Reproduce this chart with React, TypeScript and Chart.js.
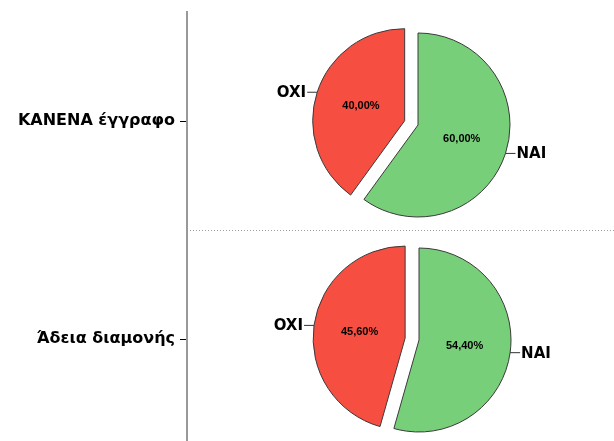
import React, { useEffect, useRef } from 'react';
import { Chart, registerables } from 'chart.js';

Chart.register(...registerables);

// ---- data ----
const panelLabels = ['ΚΑΝΕΝΑ έγγραφο', 'Άδεια διαμονής'];
const sliceLabels = ['NAI', 'OXI'];
const kanenaValues = [60.0, 40.0];
const adeiaValues = [54.4, 45.6];
const sliceColors = ['#78CF7A', '#F64E41'];

const FONT = '"Liberation Sans", Arial, sans-serif';
const BOLD_FONT = '"DejaVu Sans", Verdana, sans-serif';

const piePlugin = {
  id: 'pieDecor',
  beforeDatasetsDraw(chart: any, _args: any, opts: any) {
    const ctx = chart.ctx;
    const meta = chart.getDatasetMeta(0);
    meta.data.forEach((arc: any, i: number) => {
      const { startAngle, endAngle } = arc.getProps(['startAngle', 'endAngle']);
      const mid = (startAngle + endAngle) / 2;
      const d = opts.explodeIndex === i ? opts.explode : 0;
      ctx.save();
      ctx.translate(Math.cos(mid) * d, Math.sin(mid) * d);
      arc.draw(ctx, chart.chartArea);
      ctx.restore();
    });
    return false;
  },
  afterDraw(chart: any, _args: any, opts: any) {
    const ctx = chart.ctx;
    const meta = chart.getDatasetMeta(0);
    const values: number[] = chart.data.datasets[0].data;
    const total = values.reduce((a, b) => a + b, 0);
    meta.data.forEach((arc: any, i: number) => {
      const { x, y, startAngle, endAngle, outerRadius } = arc.getProps([
        'x', 'y', 'startAngle', 'endAngle', 'outerRadius',
      ]);
      const mid = (startAngle + endAngle) / 2;
      const c = Math.cos(mid);
      const s = Math.sin(mid);
      const d = opts.explodeIndex === i ? opts.explode : 0;
      const cx = x + c * d;
      const cy = y + s * d;
      const pct = ((values[i] / total) * 100).toFixed(2).replace('.', ',') + '%';
      ctx.save();
      ctx.fillStyle = '#000';
      ctx.textBaseline = 'middle';
      ctx.textAlign = 'center';
      ctx.font = `bold 11px ${FONT}`;
      ctx.fillText(pct, cx + c * outerRadius * 0.5, cy + s * outerRadius * 0.5);
      const ax = cx + c * outerRadius;
      const ay = cy + s * outerRadius;
      const dir = c >= 0 ? 1 : -1;
      const ex = ax + dir * opts.leader;
      ctx.strokeStyle = '#333';
      ctx.lineWidth = 1;
      ctx.beginPath();
      ctx.moveTo(ax, ay);
      ctx.lineTo(ex, ay);
      ctx.stroke();
      ctx.font = `bold 15px ${BOLD_FONT}`;
      ctx.textAlign = dir > 0 ? 'left' : 'right';
      ctx.fillText(chart.data.labels[i], ex + dir, ay + 1);
      ctx.restore();
    });
  },
};

function PieCanvas({ values, left, top }: { values: number[]; left: number; top: number }) {
  const ref = useRef<HTMLCanvasElement>(null);
  useEffect(() => {
    const chart = new Chart(ref.current!, {
      type: 'pie',
      data: {
        labels: sliceLabels,
        datasets: [
          {
            data: values,
            backgroundColor: sliceColors,
            borderColor: '#3a3a3a',
            borderWidth: 1,
          },
        ],
      },
      options: {
        responsive: false,
        animation: false,
        radius: 92,
        layout: { padding: 0 },
        plugins: {
          legend: { display: false },
          tooltip: { enabled: false },
          pieDecor: { explodeIndex: 1, explode: 14, leader: 10 },
        } as any,
      } as any,
      plugins: [piePlugin as any],
    });
    return () => chart.destroy();
  }, [values]);
  return (
    <canvas
      ref={ref}
      width={340}
      height={214}
      style={{ position: 'absolute', left, top, width: 340, height: 214 }}
    />
  );
}

function AxisCanvas() {
  const ref = useRef<HTMLCanvasElement>(null);
  useEffect(() => {
    const chart = new Chart(ref.current!, {
      type: 'scatter',
      data: { labels: panelLabels, datasets: [] },
      options: {
        responsive: false,
        animation: false,
        layout: { padding: { top: 12, left: 0, right: 0, bottom: 0 } },
        plugins: { legend: { display: false }, tooltip: { enabled: false } },
        scales: {
          x: { type: 'linear', display: false },
          y: {
            type: 'category',
            position: 'left',
            offset: true,
            afterFit: (scale: any) => {
              scale.width = 187;
              scale.paddingTop = 0;
              scale.paddingBottom = 0;
            },
            grid: {
              offset: false,
              drawOnChartArea: false,
              drawTicks: true,
              tickLength: 7,
              tickColor: '#000',
              tickWidth: 1,
            },
            border: { display: true, color: '#999', width: 2 },
            ticks: {
              color: '#000',
              padding: 5,
              font: { family: BOLD_FONT, size: 16, weight: 'bold' },
            },
          },
          y2: {
            type: 'linear',
            position: 'right',
            offset: false,
            min: 0,
            max: 2,
            afterFit: (scale: any) => {
              scale.width = 0;
              scale.paddingTop = 0;
              scale.paddingBottom = 0;
            },
            ticks: { display: false, stepSize: 1 },
            grid: {
              offset: false,
              drawTicks: false,
              lineWidth: 1,
              color: (c: any) => (c.tick && c.tick.value === 1 ? '#a0a0a0' : 'rgba(0,0,0,0)'),
            },
            border: { display: false, dash: [1, 2] },
          },
        },
      } as any,
    });
    return () => chart.destroy();
  }, []);
  return (
    <canvas
      ref={ref}
      width={614}
      height={448}
      style={{ position: 'absolute', left: 0, top: 0, width: 614, height: 448 }}
    />
  );
}

export default function App() {
  return (
    <div
      style={{
        position: 'fixed',
        left: 0,
        top: 0,
        width: 614,
        height: 441,
        overflow: 'hidden',
        background: '#fff',
      }}
    >
      <AxisCanvas />
      <PieCanvas values={kanenaValues} left={248} top={18} />
      <PieCanvas values={adeiaValues} left={249} top={233} />
    </div>
  );
}
